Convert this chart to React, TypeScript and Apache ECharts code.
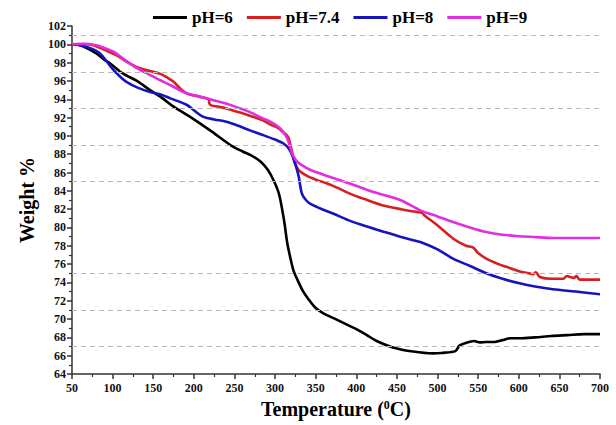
import React, { useEffect, useRef } from "react";
import * as echarts from "echarts";

const seriesNames = ["pH=6", "pH=7.4", "pH=8", "pH=9"];
const seriesColors = ["#000000", "#d81f1f", "#1515bb", "#e02ee0"];

const ph6: [number, number][] = [
  [50, 100], [60, 99.9], [70, 99.5], [80, 99.0], [90, 98.3], [97, 97.9], [113, 96.8], [130, 96.0],
  [146, 95.0], [160, 94.2], [175, 93.2], [195, 92.1], [220, 90.6], [245, 89.0], [260, 88.3],
  [270, 87.9], [282, 87.2], [291, 86.3], [299, 85.0], [305, 83.6], [311, 80.8], [315, 78.3],
  [319, 76.6], [323, 75.2], [328, 74.2], [334, 73.1], [340, 72.3], [350, 71.2], [360, 70.6],
  [372, 70.1], [386, 69.5], [400, 68.9], [412, 68.3], [425, 67.6], [445, 66.9], [470, 66.45],
  [494, 66.25], [505, 66.3], [522, 66.5], [527, 67.1], [535, 67.4], [545, 67.6], [552, 67.45],
  [560, 67.5], [570, 67.5], [580, 67.7], [590, 67.9], [601, 67.9], [620, 68.0], [640, 68.15],
  [660, 68.25], [680, 68.35], [700, 68.35],
];

const ph74: [number, number][] = [
  [50, 100], [65, 100], [76, 99.9], [90, 99.4], [105, 98.8], [117, 98.1], [130, 97.5], [145, 97.1],
  [158, 96.8], [167, 96.4], [175, 95.9], [183, 95.2], [191, 94.65], [200, 94.4], [215, 94.1],
  [218, 94.0], [220, 93.4], [230, 93.2], [240, 93.0], [255, 92.6], [269, 92.2], [285, 91.7],
  [295, 91.2], [303, 90.9], [310, 90.4], [316, 89.9], [320, 88.6], [324, 87.1], [328, 86.4],
  [331, 86.1], [340, 85.6], [351, 85.2], [370, 84.6], [392, 83.7], [410, 83.1], [433, 82.4],
  [455, 82.0], [474, 81.7], [481, 81.6], [484, 81.3], [499, 80.3], [519, 78.8], [535, 78.0],
  [544, 77.8], [550, 77.2], [560, 76.6], [575, 76.0], [585, 75.7], [601, 75.2], [612, 75.0],
  [618, 74.9], [621, 75.1], [626, 74.6], [640, 74.4], [655, 74.4], [659, 74.7], [663, 74.6],
  [668, 74.5], [671, 74.7], [675, 74.3], [700, 74.3],
];

const ph8: [number, number][] = [
  [50, 100], [60, 99.9], [75, 99.5], [84.5, 99.0], [92, 98.2], [101, 97.2], [110, 96.4], [117, 95.9],
  [130, 95.3], [146, 94.8], [160, 94.5], [171, 94.1], [191, 93.4], [200, 92.8], [211, 92.1],
  [225, 91.8], [240, 91.55], [255, 91.1], [269, 90.6], [285, 90.1], [300, 89.6], [310, 89.2],
  [317, 88.6], [322, 87.7], [326, 86.6], [329, 85.6], [333, 83.7], [338, 83.0], [343, 82.6],
  [355, 82.1], [372, 81.5], [390, 80.8], [413, 80.1], [435, 79.5], [454, 79.0], [470, 78.6],
  [482, 78.3], [500, 77.6], [519, 76.6], [540, 75.8], [560, 75.0], [580, 74.4], [601, 73.9],
  [620, 73.55], [642, 73.25], [670, 73.0], [700, 72.7],
];

const ph9: [number, number][] = [
  [50, 100], [65, 100.05], [80, 99.9], [90, 99.6], [101, 99.2], [115, 98.3], [130, 97.4], [145, 96.7],
  [158, 96.1], [172, 95.5], [187, 94.8], [200, 94.45], [208, 94.3], [224, 93.9], [244, 93.4],
  [260, 92.9], [269, 92.6], [285, 91.9], [294, 91.55], [304, 91.0], [310, 90.45], [316, 89.5],
  [320, 88.3], [326, 87.3], [333, 86.8], [343, 86.3], [365, 85.6], [392, 84.8], [420, 83.9],
  [454, 83.0], [478, 81.9], [500, 81.2], [519, 80.6], [540, 80.0], [560, 79.5], [580, 79.2],
  [601, 79.05], [620, 78.95], [642, 78.85], [670, 78.85], [700, 78.85],
];

const gridLevels = [101, 97, 93, 89, 85, 75, 71, 67];

const FONT = "'Liberation Serif', 'Times New Roman', serif";

export default function App() {
  const ref = useRef<HTMLDivElement>(null);
  useEffect(() => {
    if (!ref.current) return;
    const chart = echarts.init(ref.current, null, { renderer: "svg" });
    const allData = [ph6, ph74, ph8, ph9];
    const lineSeries = allData.map((d, i) => ({
      name: seriesNames[i],
      type: "line",
      data: d,
      showSymbol: false,
      symbol: "none",
      smooth: 0.3,
      lineStyle: { color: seriesColors[i], width: 2.6 },
      itemStyle: { color: seriesColors[i] },
      z: 3,
    }));
    chart.setOption({
      animation: false,
      backgroundColor: "#ffffff",
      legend: {
        data: seriesNames,
        top: 4,
        left: 148,
        icon: "rect",
        itemWidth: 34,
        itemHeight: 3,
        itemGap: 14,
        textStyle: { fontFamily: FONT, fontWeight: "bold", fontSize: 17, color: "#000" },
      },
      grid: { left: 72, right: 16, top: 26, bottom: 51, containLabel: false },
      xAxis: {
        type: "value",
        min: 50,
        max: 700,
        interval: 50,
        name: "Temperature ({sup|0}C)",
        nameLocation: "middle",
        nameGap: 23,
        nameTextStyle: {
          fontFamily: FONT,
          fontWeight: "bold",
          fontSize: 20,
          color: "#000",
          rich: {
            sup: { fontFamily: FONT, fontWeight: "bold", fontSize: 12, color: "#000", padding: [0, 0, 9, 0] },
          },
        },
        axisLine: { show: true, onZero: false, lineStyle: { color: "#333", width: 1.5 } },
        axisTick: { show: true, length: 5, lineStyle: { color: "#333", width: 1.5 } },
        minorTick: { show: true, splitNumber: 2, length: 3, lineStyle: { color: "#333", width: 1.2 } },
        axisLabel: { fontFamily: FONT, fontWeight: "bold", fontSize: 12, color: "#111", margin: 8 },
        splitLine: { show: false },
      },
      yAxis: {
        type: "value",
        min: 64,
        max: 102,
        interval: 2,
        name: "Weight %",
        nameLocation: "middle",
        nameGap: 34,
        nameTextStyle: { fontFamily: FONT, fontWeight: "bold", fontSize: 20, color: "#000" },
        axisLine: { show: true, onZero: false, lineStyle: { color: "#333", width: 1.5 } },
        axisTick: { show: true, length: 5, lineStyle: { color: "#333", width: 1.5 } },
        minorTick: { show: true, splitNumber: 2, length: 3, lineStyle: { color: "#333", width: 1.2 } },
        axisLabel: { fontFamily: FONT, fontWeight: "bold", fontSize: 12, color: "#111", margin: 6 },
        splitLine: { show: false },
      },
      series: [
        {
          name: "grid",
          type: "line",
          data: [],
          z: 1,
          markLine: {
            silent: true,
            symbol: "none",
            label: { show: false },
            lineStyle: { color: "#b8b8b8", type: [5, 4], width: 1 },
            data: gridLevels.map((v) => ({ yAxis: v })),
          },
        },
        ...lineSeries,
      ],
    });
    return () => chart.dispose();
  }, []);
  return (
    <div
      ref={ref}
      style={{ position: "absolute", left: 0, top: 0, width: 616, height: 425 }}
    />
  );
}
